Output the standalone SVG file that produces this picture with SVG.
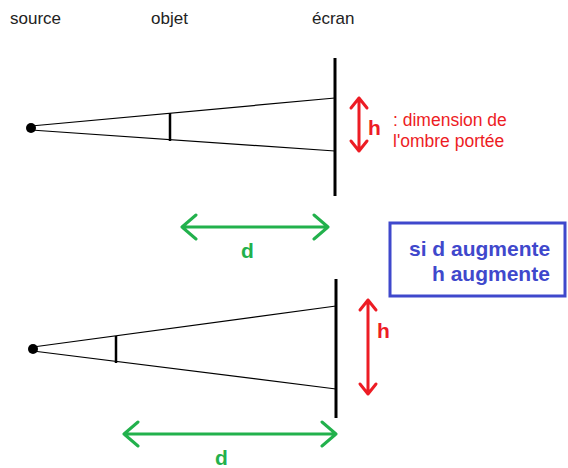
<svg xmlns="http://www.w3.org/2000/svg" width="568" height="468" viewBox="0 0 568 468">
<style>
.lbl{font-family:"Liberation Sans",Arial,sans-serif;font-size:17px;fill:#222}
.ray{stroke:#000;stroke-width:1.2;fill:none}
.scr{stroke:#000;stroke-width:3;fill:none}
.obj{stroke:#000;stroke-width:2.5;fill:none}
.red{stroke:#ed1c24;stroke-width:3;fill:none;stroke-linecap:round;stroke-linejoin:round}
.grn{stroke:#22b14c;stroke-width:3;fill:none;stroke-linecap:round;stroke-linejoin:round}
.big{font-family:"Liberation Sans",Arial,sans-serif;font-size:21px;font-weight:bold}
.rt{font-family:"Liberation Sans",Arial,sans-serif;font-size:17.5px;fill:#ed1c24}
</style>
<rect width="568" height="468" fill="#fff"/>
<g id="labels">
<text class="lbl" x="10" y="24">source</text>
<text class="lbl" x="151" y="24">objet</text>
<text class="lbl" x="312" y="24">écran</text>
</g>
<g id="connectors">
<line class="ray" x1="31" y1="126" x2="335" y2="98"/>
<line class="ray" x1="31" y1="130" x2="335" y2="151"/>
<line class="ray" x1="33" y1="347" x2="336" y2="306"/>
<line class="ray" x1="33" y1="351" x2="336" y2="389"/>
</g>
<g id="top-source"><circle cx="31" cy="128" r="5" fill="#000"/></g>
<g id="top-object"><line class="obj" x1="170" y1="113" x2="170" y2="141"/></g>
<g id="top-screen"><line class="scr" x1="335" y1="58" x2="335" y2="196"/></g>
<g id="top-h">
<path class="red" d="M359 98 V151 M351 108 L359 98 L367 108 M351 141 L359 151 L367 141"/>
<text class="big" x="368" y="135" fill="#ed1c24">h</text>
<text class="rt" x="393" y="126">: dimension de</text>
<text class="rt" x="393" y="147">l'ombre portée</text>
</g>
<g id="top-d">
<path class="grn" d="M182 227 H328 M196 215 L182 227 L196 239 M314 215 L328 227 L314 239"/>
<text class="big" x="241" y="258" fill="#22b14c">d</text>
</g>
<g id="note">
<rect x="390" y="223" width="175" height="73" fill="none" stroke="#3f48cc" stroke-width="3"/>
<text class="big" x="409" y="256" fill="#3f48cc">si d augmente</text>
<text class="big" x="432" y="281" fill="#3f48cc">h augmente</text>
</g>
<g id="bottom-source"><circle cx="33" cy="349" r="5" fill="#000"/></g>
<g id="bottom-object"><line class="obj" x1="116" y1="336" x2="116" y2="363"/></g>
<g id="bottom-screen"><line class="scr" x1="336" y1="279" x2="336" y2="418"/></g>
<g id="bottom-h">
<path class="red" d="M368 300 V394 M360 310 L368 300 L376 310 M360 384 L368 394 L376 384"/>
<text class="big" x="377" y="338" fill="#ed1c24">h</text>
</g>
<g id="bottom-d">
<path class="grn" d="M124 434 H336 M138 422 L124 434 L138 446 M322 422 L336 434 L322 446"/>
<text class="big" x="215" y="465" fill="#22b14c">d</text>
</g>
</svg>
